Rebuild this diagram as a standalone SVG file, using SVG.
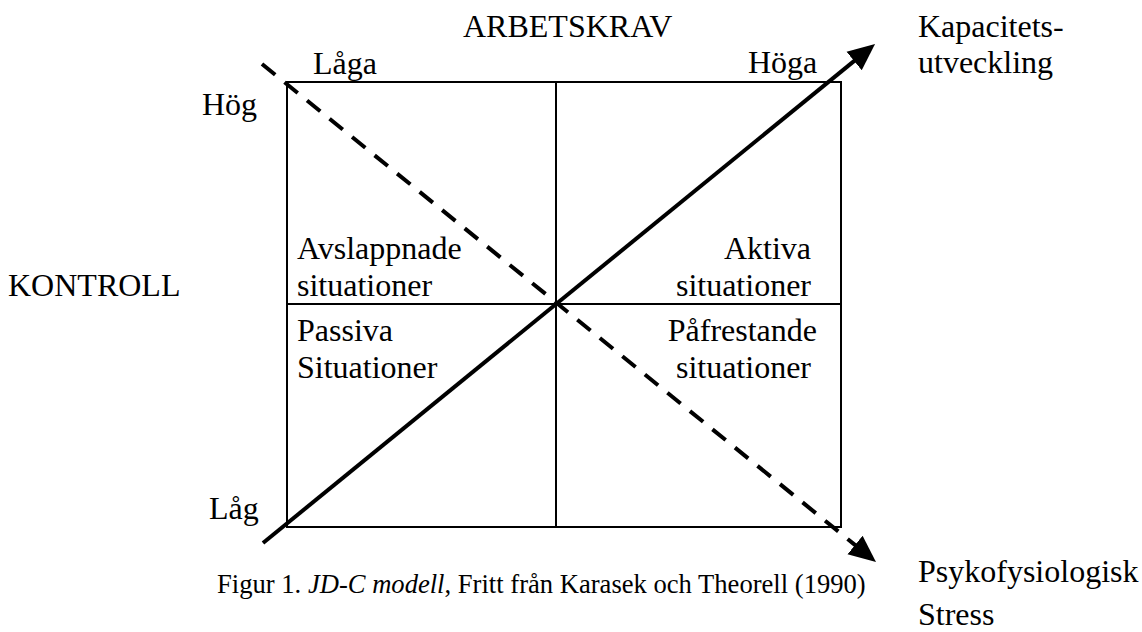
<svg xmlns="http://www.w3.org/2000/svg" width="1142" height="632" viewBox="0 0 1142 632">
  <style>
    .t { font-family: "Liberation Serif", "Times New Roman", serif; font-size: 32px; fill: #000; }
    .cap { font-family: "Liberation Serif", "Times New Roman", serif; font-size: 26.6px; fill: #000; }
    .grid { fill: none; stroke: #000; stroke-width: 2; }
    .arrow { fill: none; stroke: #000; stroke-width: 4; }
    .dash { stroke-dasharray: 17 12; }
  </style>
  <defs>
    <marker id="head" markerUnits="userSpaceOnUse" markerWidth="30" markerHeight="26" refX="1" refY="13" orient="auto">
      <path d="M0,1 L27,13 L0,25 z" fill="#000"/>
    </marker>
  </defs>
  <rect width="1142" height="632" fill="#fff"/>

  <g id="grid">
    <rect class="grid" x="287" y="82" width="554" height="445"/>
    <line class="grid" x1="556" y1="82" x2="556" y2="527"/>
    <line class="grid" x1="287" y1="304" x2="841" y2="304"/>
  </g>

  <g id="connectors">
    <line class="arrow" x1="263" y1="543" x2="854.9" y2="60.4" marker-end="url(#head)"/>
    <line class="arrow dash" x1="262" y1="64" x2="855.8" y2="545.6" marker-end="url(#head)"/>
  </g>

  <g id="axis-arbetskrav">
    <text class="t" x="463" y="37">ARBETSKRAV</text>
    <text class="t" x="313" y="74">Låga</text>
    <text class="t" x="748" y="73">Höga</text>
  </g>
  <g id="axis-kontroll">
    <text class="t" x="8" y="296">KONTROLL</text>
    <text class="t" x="202" y="115">Hög</text>
    <text class="t" x="209" y="519">Låg</text>
  </g>

  <g id="q-avslappnade">
    <text class="t" x="297" y="259">Avslappnade</text>
    <text class="t" x="297" y="296">situationer</text>
  </g>
  <g id="q-aktiva">
    <text class="t" x="811" y="259" text-anchor="end">Aktiva</text>
    <text class="t" x="811" y="296" text-anchor="end">situationer</text>
  </g>
  <g id="q-passiva">
    <text class="t" x="297" y="341">Passiva</text>
    <text class="t" x="297" y="378">Situationer</text>
  </g>
  <g id="q-pafrestande">
    <text class="t" x="817" y="341" text-anchor="end">Påfrestande</text>
    <text class="t" x="811" y="378" text-anchor="end">situationer</text>
  </g>

  <g id="out-kapacitet">
    <text class="t" x="918" y="37">Kapacitets-</text>
    <text class="t" x="918" y="73">utveckling</text>
  </g>
  <g id="out-stress">
    <text class="t" x="918" y="582">Psykofysiologisk</text>
    <text class="t" x="918" y="625">Stress</text>
  </g>

  <g id="caption">
    <text class="cap" x="217" y="593">Figur 1. <tspan font-style="italic">JD-C modell</tspan>, Fritt från Karasek och Theorell (1990)</text>
  </g>
</svg>
